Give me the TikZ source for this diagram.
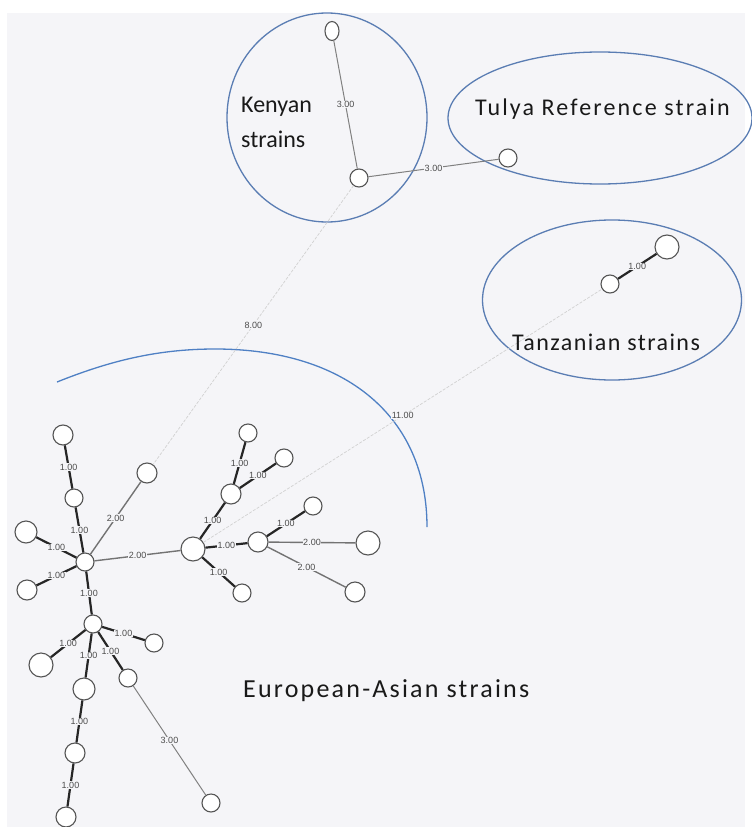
\documentclass[tikz,border=0pt]{standalone}
\usepackage{fontspec}
\setmainfont{Carlito}
\newfontfamily\lblfont{Liberation Sans}
\usetikzlibrary{shapes.geometric}
\definecolor{bgc}{HTML}{F5F5F8}
\definecolor{nodec}{HTML}{555555}
\definecolor{blobc}{HTML}{5A7DB3}
\definecolor{arcc}{HTML}{4F80C4}
\begin{document}
\begin{tikzpicture}[x=1pt,y=-1pt,
  v/.style={circle, draw=nodec, fill=white, line width=1.1pt, inner sep=0pt, minimum size=#1},
  v/.default=18pt,
  e1/.style={line width=2.2pt, draw=black!85},
  e2/.style={line width=1.4pt, draw=black!55},
  e3/.style={line width=1pt, draw=black!50},
  elong/.style={line width=0.7pt, draw=black!18, dash pattern=on 3pt off 1.5pt},
  lbl/.style={font=\lblfont\fontsize{9}{10}\selectfont, text=black!70, fill=bgc, inner sep=0.4pt},
  blob/.style={draw=blobc, line width=1.3pt},
  big/.style={anchor=base west, text=black!90, inner sep=0pt}
]
\useasboundingbox (0,0) rectangle (752,827);
\fill[bgc] (7,13) rectangle (745,827);

% group outlines
\draw[blob] (327,117.5) ellipse [x radius=100pt, y radius=104.5pt];
\draw[blob] (600,118) ellipse [x radius=152pt, y radius=66pt];
\draw[blob] (612,300) ellipse [x radius=129.5pt, y radius=80pt];
\draw[draw=arcc, line width=1.3pt] (57,382) .. controls (107,362) and (155,349) .. (215,349) .. controls (346,349) and (427,417) .. (427,527);

% nodes
\node[v=20pt] (at1) at (63,435) {};
\node[v=18pt] (am) at (74,498) {};
\node[v=22pt] (al1) at (26,532) {};
\node[v=20pt] (al2) at (27,590) {};
\node[v=18pt] (a) at (85,562) {};
\node[v=20pt] (n1) at (147,473) {};
\node[v=24pt] (b) at (193,549) {};
\node[v=20pt] (bu) at (231,494) {};
\node[v=18pt] (but) at (248,433) {};
\node[v=18pt] (bur) at (284,458) {};
\node[v=20pt] (c) at (258,542) {};
\node[v=18pt] (cu) at (313,506) {};
\node[v=24pt] (cr) at (368,543) {};
\node[v=20pt] (cdr) at (355,592) {};
\node[v=18pt] (bd) at (242,593) {};
\node[v=18pt] (d) at (93,624) {};
\node[v=24pt] (dl) at (41,665) {};
\node[v=18pt] (dr) at (154,643) {};
\node[v=22pt] (dm) at (84,689) {};
\node[v=18pt] (dr2) at (128,678) {};
\node[v=18pt] (df) at (211,803) {};
\node[v=20pt] (dc2) at (75,753) {};
\node[v=20pt] (dc3) at (66,817) {};
\node[ellipse, draw=nodec, fill=white, line width=1.1pt, inner sep=0pt, minimum width=14pt, minimum height=19pt] (kt) at (332,31) {};
\node[v=18pt] (kb) at (359,178) {};
\node[v=18pt] (tu) at (508,158) {};
\node[v=18pt] (ts) at (610,284) {};
\node[v=24pt] (tb) at (667,247) {};

% long links
\draw[elong] (kb) -- node[lbl] {8.00} (n1);
\draw[elong] (b) -- node[lbl] {11.00} (ts);

% edges
\draw[e1] (at1) -- node[lbl] {1.00} (am);
\draw[e1] (am) -- node[lbl] {1.00} (a);
\draw[e1] (al1) -- node[lbl] {1.00} (a);
\draw[e1] (al2) -- node[lbl] {1.00} (a);
\draw[e2] (a) -- node[lbl] {2.00} (n1);
\draw[e2] (a) -- node[lbl] {2.00} (b);
\draw[e1] (a) -- node[lbl] {1.00} (d);
\draw[e1] (b) -- node[lbl] {1.00} (bu);
\draw[e1] (bu) -- node[lbl] {1.00} (but);
\draw[e1] (bu) -- node[lbl] {1.00} (bur);
\draw[e1] (b) -- node[lbl] {1.00} (c);
\draw[e1] (c) -- node[lbl] {1.00} (cu);
\draw[e2] (c) -- node[lbl] {2.00} (cr);
\draw[e2] (c) -- node[lbl] {2.00} (cdr);
\draw[e1] (b) -- node[lbl] {1.00} (bd);
\draw[e1] (d) -- node[lbl] {1.00} (dl);
\draw[e1] (d) -- node[lbl] {1.00} (dr);
\draw[e1] (d) -- node[lbl] {1.00} (dm);
\draw[e1] (d) -- node[lbl] {1.00} (dr2);
\draw[e1] (dm) -- node[lbl] {1.00} (dc2);
\draw[e1] (dc2) -- node[lbl] {1.00} (dc3);
\draw[e3] (dr2) -- node[lbl] {3.00} (df);
\draw[e3] (kt) -- node[lbl] {3.00} (kb);
\draw[e3] (kb) -- node[lbl] {3.00} (tu);
\draw[e1] (ts) -- node[lbl] {1.00} (tb);

% group labels
\node[big, font=\fontsize{24}{28}\selectfont] (kl1) at (241,112) {Kenyan};
\node[big, font=\fontsize{24}{28}\selectfont] (kl2) at (241,147) {strains};
\node[big, font=\fontsize{24}{28}\selectfont\addfontfeatures{LetterSpace=9}] (tul) at (475,115) {Tulya Reference strain};
\node[big, font=\fontsize{24}{28}\selectfont\addfontfeatures{LetterSpace=6}] (tzl) at (512,350) {Tanzanian strains};
\node[big, font=\fontsize{26}{30}\selectfont\addfontfeatures{LetterSpace=8.5}] (eul) at (243,697) {European-Asian strains};
\end{tikzpicture}
\end{document}
